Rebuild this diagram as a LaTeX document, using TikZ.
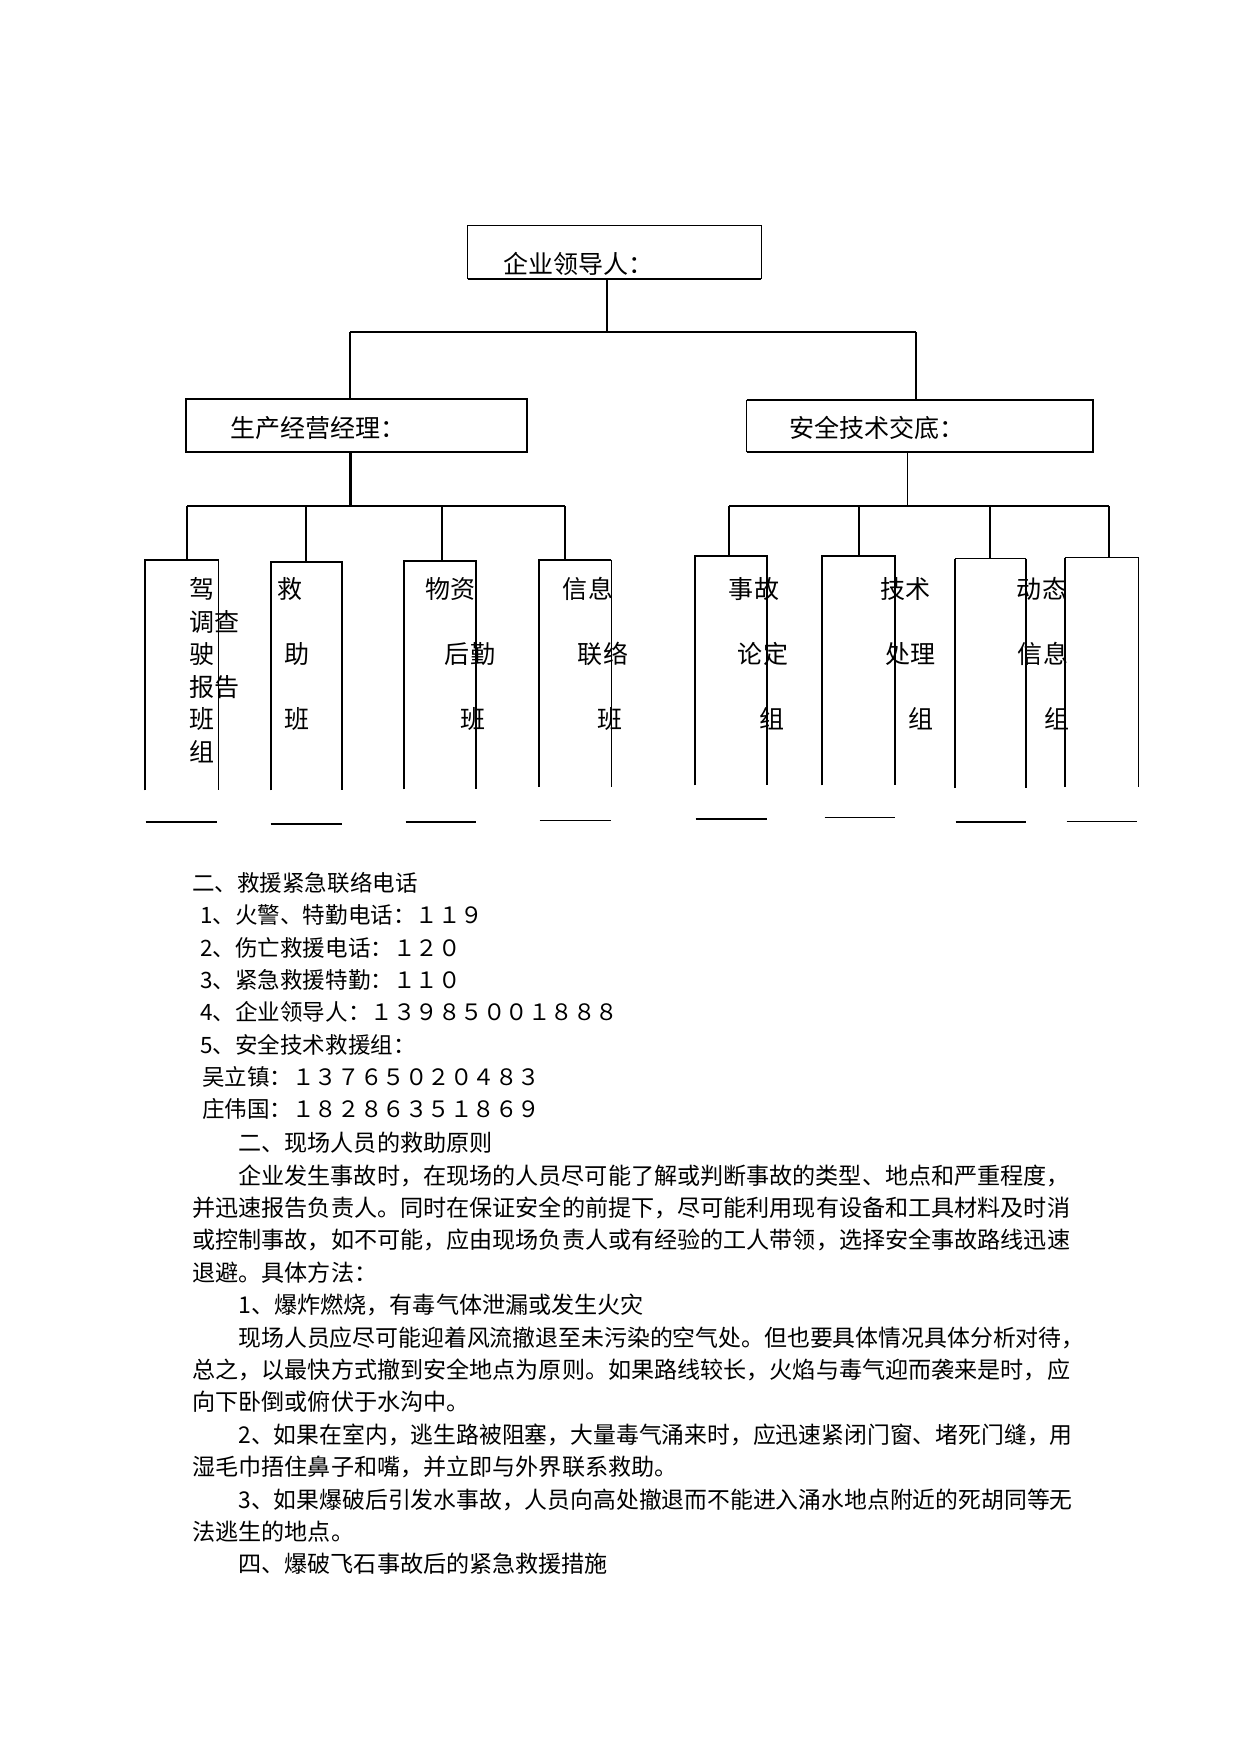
\documentclass[tikz,border=0pt]{standalone}
\usepackage{fontspec}
\usepackage{graphicx}
\setmainfont{Noto Sans CJK SC}
\usetikzlibrary{fit,calc}
\begin{document}
\begin{tikzpicture}[x=0.47968pt,y=-0.47968pt,
  thk/.style={line width=1pt},
  thn/.style={line width=0.5pt},
  frame/.style={inner sep=0pt, draw=none},
  lbl/.style={inner sep=0pt, text height=10.6pt, text depth=1.4pt, font=\fontsize{12}{12}\selectfont},
  hd/.style={lbl, anchor=west},
  ph/.style={inner sep=0pt, anchor=west, text height=9.5pt, text depth=1.3pt, font=\fontsize{10.8}{10.8}\selectfont},
  bd/.style={inner sep=0pt, anchor=west, text height=9.75pt, text depth=1.33pt, font=\fontsize{11.08}{11.08}\selectfont}
]
\useasboundingbox (0,0) rectangle (1241,1754);
\fill[white] (0,0) rectangle (1241,1754);

% ---------- boxes ----------
\node[frame, fit={(468,226) (761,279)}] (top) {};
\node[frame, fit={(186,399) (527,452)}] (mgrL) {};
\node[frame, fit={(747,400) (1093,452)}] (mgrR) {};

\node[frame, fit={(145.7,560) (218.3,790)}] (b1) {};
\node[frame, fit={(271.7,562.7) (342,790)}] (b2) {};
\node[frame, fit={(404,561.7) (476,789)}] (b3) {};
\node[frame, fit={(539,560) (610.7,786.7)}] (b4) {};
\node[frame, fit={(695,556.7) (766.7,785)}] (b5) {};
\node[frame, fit={(822.7,556.7) (895,785)}] (b6) {};
\node[frame, fit={(955.7,559) (1026,787.7)}] (b7) {};
\node[frame, fit={(1065,558) (1138.3,786.7)}] (b8) {};

\draw[thn] (top.south west) -- (top.north west) -- (top.north east) -- (top.south east);
\draw[thk] (top.south west) -- (top.south east);
\draw[thk] (mgrL.south west) rectangle (mgrL.north east);
\draw[thk] (mgrR.north west) -- (mgrR.north east) -- (mgrR.south east) -- (mgrR.south west);
\draw[thn] (mgrR.south west) -- (mgrR.north west);

% lower boxes (open at the bottom)
\draw[thk] (b1.south west) -- (b1.north west) -- (b1.north east);
\draw[thn] (b1.north east) -- (b1.south east);
\draw[thk] (b2.south west) -- (b2.north west) -- (b2.north east) -- (b2.south east);
\draw[thk] (b3.south west) -- (b3.north west) -- (b3.north east) -- (b3.south east);
\draw[thk] (b4.south west) -- (b4.north west) -- (b4.north east);
\draw[thn] (b4.north east) -- (b4.south east);
\draw[thk] (b5.south west) -- (b5.north west) -- (b5.north east) -- (b5.south east);
\draw[thk] (b6.south west) -- (b6.north west) -- (b6.north east) -- (b6.south east);
\draw[thn] (b7.north west) -- (b7.north east);
\draw[thk] (b7.south west) -- (b7.north west);
\draw[thk] (b7.north east) -- (b7.south east);
\draw[thn] (b8.north west) -- (b8.north east);
\draw[thk] (b8.south west) -- (b8.north west);
\draw[thn] (b8.north east) -- (b8.south east);

% separate bottom lines
\draw[thk] ($(b1.south west)+(0.3,31.7)$) -- ($(b1.south east)+(-1.6,31.7)$);
\draw[thk] ($(b2.south west)+(-0.7,33.3)$) -- ($(b2.south east)+(0,33.3)$);
\draw[thk] ($(b3.south west)+(2,32.7)$) -- ($(b3.south east)+(0,32.7)$);
\draw[thn] ($(b4.south west)+(1,33.3)$) -- ($(b4.south east)+(0,33.3)$);
\draw[thk] ($(b5.south west)+(1,34)$) -- ($(b5.south east)+(0,34)$);
\draw[thn] ($(b6.south west)+(2.3,32.3)$) -- ($(b6.south east)+(0,32.3)$);
\draw[thk] ($(b7.south west)+(0.3,34)$) -- ($(b7.south east)+(0,34)$);
\draw[thn] ($(b8.south west)+(2,34)$) -- ($(b8.south east)+(-1.6,34)$);

% ---------- connectors ----------
\coordinate (busM) at (607,332);
\coordinate (busL) at (350,332);
\coordinate (busR) at (916,332);
\draw[thn] (busM |- top.south) -- (busM);
\draw[thk] (busL) -- (busR);
\draw[thn] (busL) -- (busL |- mgrL.north);
\draw[thn] (busR) -- (busR |- mgrR.north);

\coordinate (stemL) at (350.5,506);
\coordinate (dL1) at (187,506);
\coordinate (dL2) at (305.7,506);
\coordinate (dL3) at (442.3,506);
\coordinate (dL4) at (565,506);
\draw[thk] (stemL |- mgrL.south) -- (stemL);
\draw[thk] (dL1) -- (dL4);
\draw[thk] (dL1) -- (dL1 |- b1.north);
\draw[thk] (dL2) -- (dL2 |- b2.north);
\draw[thk] (dL3) -- (dL3 |- b3.north);
\draw[thk] (dL4) -- (dL4 |- b4.north);

\coordinate (stemR) at (907.3,506);
\coordinate (dR1) at (729,506);
\coordinate (dR2) at (859,506);
\coordinate (dR3) at (990,506);
\coordinate (dR4) at (1109,506);
\draw[thn] (stemR |- mgrR.south) -- (stemR);
\draw[thk] (dR1) -- (dR4);
\draw[thn] (dR1) -- (dR1 |- b5.north);
\draw[thk] (dR2) -- (dR2 |- b6.north);
\draw[thk] (dR3) -- (dR3 |- b7.north);
\draw[thk] (dR4) -- (dR4 |- b8.north);

% ---------- box texts ----------
\node[hd] (ttop) at (503,264) {企业领导人：};
\node[hd] (tmgrL) at (230,428) {生产经营经理：};
\node[hd] (tmgrR) at (789,428) {安全技术交底：};

\node[lbl] (t1a) at (202,589) {驾};
\node[lbl] (t1b) at (214.7,621.5) {调查};
\node[lbl] (t1c) at (202,654) {驶};
\node[lbl] (t1d) at (214.7,686.5) {报告};
\node[lbl] (t1e) at (202,719) {班};
\node[lbl] (t1f) at (202,751.5) {组};

\node[lbl] (t2a) at (290,589) {救};
\node[lbl] (t2b) at (296.7,654) {助};
\node[lbl] (t2c) at (296.7,719) {班};

\node[lbl] (t3a) at (450.7,589) {物资};
\node[lbl] (t3b) at (470,654) {后勤};
\node[lbl] (t3c) at (473.3,719) {班};

\node[lbl] (t4a) at (588,589) {信息};
\node[lbl] (t4b) at (603,654) {联络};
\node[lbl] (t4c) at (610,719) {班};

\node[lbl] (t5a) at (754,589) {事故};
\node[lbl] (t5b) at (763,654) {论定};
\node[lbl] (t5c) at (771.7,719) {组};

\node[lbl] (t6a) at (905.7,589) {技术};
\node[lbl] (t6b) at (910.7,654) {处理};
\node[lbl] (t6c) at (920.7,719) {组};

\node[lbl] (t7a) at (1042,589) {动态};
\node[lbl] (t7b) at (1043,654) {信息};
\node[lbl] (t7c) at (1056.7,719) {组};

% ---------- phone list ----------
\node[ph] (p0) at (192,883) {二、救援紧急联络电话};
\node[ph] (p1) at (200,915.3) {1、火警、特勤电话：１１９};
\node[ph] (p2) at (200,947.6) {2、伤亡救援电话：１２０};
\node[ph] (p3) at (200,979.9) {3、紧急救援特勤：１１０};
\node[ph] (p4) at (200,1012.2) {4、企业领导人：１３９８５００１８８８};
\node[ph] (p5) at (200,1044.5) {5、安全技术救援组：};
\node[ph] (p6) at (202,1076.8) {吴立镇：１３７６５０２０４８３};
\node[ph] (p7) at (202,1109.1) {庄伟国：１８２８６３５１８６９};

% ---------- body ----------
\node[bd] (l0) at (238,1143) {二、现场人员的救助原则};
\node[bd] (l1) at (238,1175.4) {企业发生事故时，在现场的人员尽可能了解或判断事故的类型、地点和严重程度，};
\node[bd] (l2) at (192,1207.8) {并迅速报告负责人。同时在保证安全的前提下，尽可能利用现有设备和工具材料及时消};
\node[bd] (l3) at (192,1240.2) {或控制事故，如不可能，应由现场负责人或有经验的工人带领，选择安全事故路线迅速};
\node[bd] (l4) at (192,1272.6) {退避。具体方法：};
\node[bd] (l5) at (238,1305) {1、爆炸燃烧，有毒气体泄漏或发生火灾};
\node[bd] (l6) at (238,1337.4) {\scalebox{0.99}[1]{现场人员应尽可能迎着风流撤退至未污染的空气处。但也要具体情况具体分析对待，}};
\node[bd] (l7) at (192,1369.8) {总之，以最快方式撤到安全地点为原则。如果路线较长，火焰与毒气迎而袭来是时，应};
\node[bd] (l8) at (192,1402.2) {向下卧倒或俯伏于水沟中。};
\node[bd] (l9) at (238,1434.6) {\scalebox{0.988}[1]{2、如果在室内，逃生路被阻塞，大量毒气涌来时，应迅速紧闭门窗、堵死门缝，用}};
\node[bd] (l10) at (192,1467) {湿毛巾捂住鼻子和嘴，并立即与外界联系救助。};
\node[bd] (l11) at (238,1499.4) {\scalebox{0.988}[1]{3、如果爆破后引发水事故，人员向高处撤退而不能进入涌水地点附近的死胡同等无}};
\node[bd] (l12) at (192,1531.8) {法逃生的地点。};
\node[bd] (l13) at (238,1564.2) {四、爆破飞石事故后的紧急救援措施};
\end{tikzpicture}
\end{document}
